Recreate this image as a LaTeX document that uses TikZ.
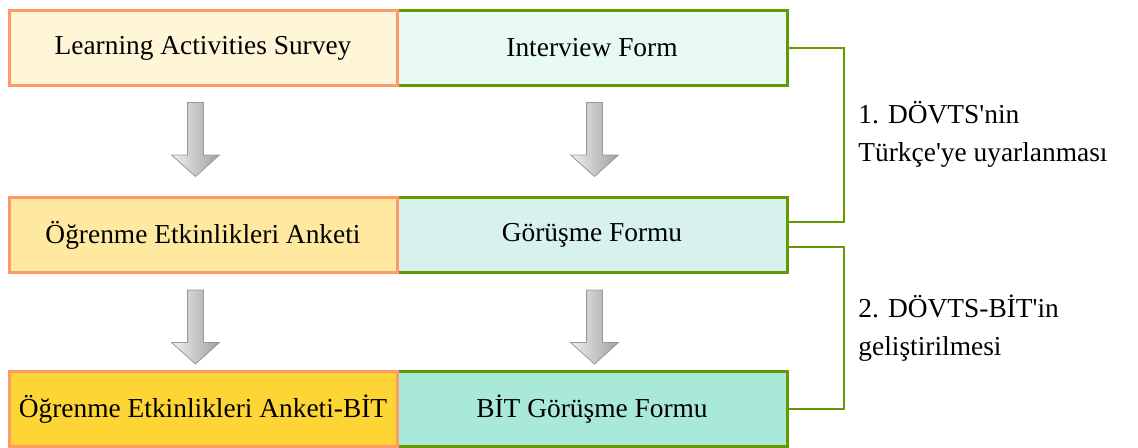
\documentclass[tikz,border=0pt]{standalone}
\usepackage{fontspec}
\setmainfont{Liberation Serif}
\usetikzlibrary{shapes.arrows,positioning}
\definecolor{orangeline}{HTML}{FF9966}
\definecolor{greenline}{HTML}{669900}
\definecolor{surveyfill}{HTML}{FFF5D7}
\definecolor{anketfill}{HTML}{FFE9A0}
\definecolor{anketbitfill}{HTML}{FDD535}
\definecolor{interviewfill}{HTML}{E9F9F5}
\definecolor{gorusmefill}{HTML}{D7F2EC}
\definecolor{bitgorfill}{HTML}{A9E9D7}
\newcommand{\apo}{\textquotesingle}
\tikzset{
  leftbox/.style={draw=orangeline, line width=1.5pt, minimum width=194pt, minimum height=37.5pt, inner sep=0pt},
  rightbox/.style={draw=greenline, line width=1.5pt, minimum width=195pt, minimum height=37.5pt, inner sep=0pt},
  bracket/.style={draw=greenline, line width=1pt},
  grayarrow/.style={single arrow, rotate=-90, draw=gray!80, line width=0.4pt,
    left color=gray!12, right color=gray!75, minimum height=37pt, minimum width=23.5pt,
    inner sep=3.75pt, single arrow head extend=8pt, single arrow tip angle=96},
  steptext/.style={align=left, anchor=base west, inner sep=0pt}
}

\begin{document}
\begin{tikzpicture}[x=0.5pt,y=-0.5pt]
  \fontsize{13.7pt}{19pt}\selectfont
  \useasboundingbox (0,0) rectangle (1138,448);
  % right column first, the orange borders lie on top
  \node[rightbox, fill=interviewfill] (interview) at (592,48) {Interview Form};
  \node[rightbox, fill=gorusmefill] (gorusme) at (592,235) {Görüşme Formu};
  \node[rightbox, fill=bitgorfill] (bitgorusme) at (592,409) {BİT Görüşme Formu};
  \node[leftbox, fill=surveyfill] (survey) at (203,48) {Learning Activities Survey};
  \node[leftbox, fill=anketfill] (anket) at (203,235) {Öğrenme Etkinlikleri Anketi};
  \node[leftbox, fill=anketbitfill] (anketbit) at (203,409) {Öğrenme Etkinlikleri Anketi-BİT};
  % block arrows
  \node[grayarrow] (arrA) at (195.5,136) {};
  \node[grayarrow] (arrB) at (594.5,136) {};
  \node[grayarrow] (arrC) at (195.5,323.5) {};
  \node[grayarrow] (arrD) at (594.5,323.5) {};
  % brackets
  \coordinate (kA) at (844,222);
  \coordinate (kB) at (844,247);
  \draw[bracket] (interview.east) -| (kA) -- (kA -| gorusme.east);
  \draw[bracket] (kB -| gorusme.east) -- (kB) |- (bitgorusme.east);
  \node[steptext] (stepA) at (858,162) {1. DÖVTS\apo nin\\Türkçe\apo ye uyarlanması};
  \node[steptext] (stepB) at (858,355) {2. DÖVTS-BİT\apo in\\geliştirilmesi};
\end{tikzpicture}
\end{document}
